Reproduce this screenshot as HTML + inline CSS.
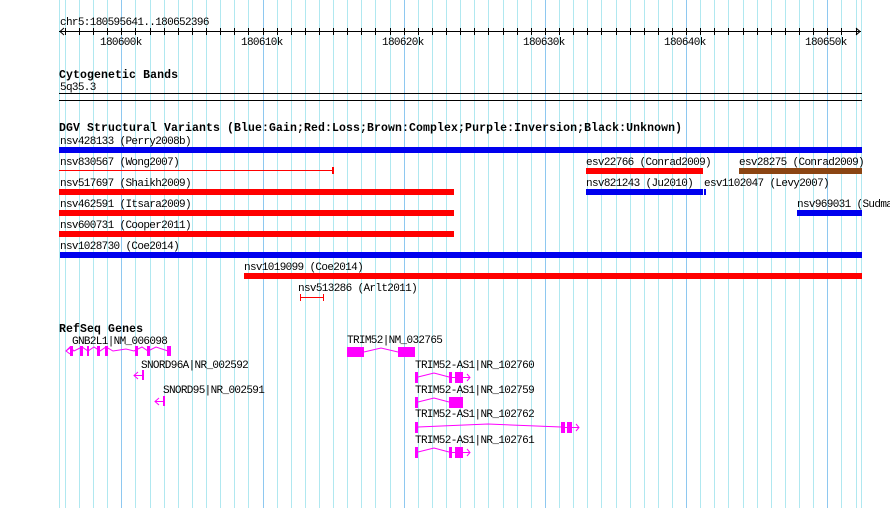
<!DOCTYPE html>
<html><head><meta charset="utf-8"><style>
html,body{margin:0;padding:0;background:#fff;}
svg{display:block;}
text{font-family:"Liberation Mono","DejaVu Sans Mono",monospace;font-size:11px;letter-spacing:-0.65px;fill:#000;}
.b{font-weight:bold;font-size:11.5px;letter-spacing:0;}
</style></head><body>
<svg width="890" height="508" viewBox="0 0 890 508" xmlns="http://www.w3.org/2000/svg">
<g shape-rendering="crispEdges" stroke-width="1" fill="none">
<path stroke="#b0e8f0" d="M59.5 0V508M65.5 0V508M79.5 0V508M93.5 0V508M107.5 0V508M135.5 0V508M150.5 0V508M164.5 0V508M178.5 0V508M192.5 0V508M206.5 0V508M220.5 0V508M234.5 0V508M248.5 0V508M277.5 0V508M291.5 0V508M305.5 0V508M319.5 0V508M333.5 0V508M347.5 0V508M361.5 0V508M375.5 0V508M390.5 0V508M418.5 0V508M432.5 0V508M446.5 0V508M460.5 0V508M474.5 0V508M488.5 0V508M503.5 0V508M517.5 0V508M531.5 0V508M559.5 0V508M573.5 0V508M587.5 0V508M601.5 0V508M616.5 0V508M630.5 0V508M644.5 0V508M658.5 0V508M672.5 0V508M700.5 0V508M714.5 0V508M728.5 0V508M743.5 0V508M757.5 0V508M771.5 0V508M785.5 0V508M799.5 0V508M813.5 0V508M841.5 0V508M856.5 0V508M861.5 0V508"/>
<path stroke="#8ec8f0" d="M121.5 0V508M263.5 0V508M404.5 0V508M545.5 0V508M686.5 0V508M827.5 0V508"/>
<path stroke="#000" d="M65.5 28V35M79.5 28V35M93.5 28V35M107.5 28V35M121.5 28V35M135.5 28V35M150.5 28V35M164.5 28V35M178.5 28V35M192.5 28V35M206.5 28V35M220.5 28V35M234.5 28V35M248.5 28V35M263.5 28V35M277.5 28V35M291.5 28V35M305.5 28V35M319.5 28V35M333.5 28V35M347.5 28V35M361.5 28V35M375.5 28V35M390.5 28V35M404.5 28V35M418.5 28V35M432.5 28V35M446.5 28V35M460.5 28V35M474.5 28V35M488.5 28V35M503.5 28V35M517.5 28V35M531.5 28V35M545.5 28V35M559.5 28V35M573.5 28V35M587.5 28V35M601.5 28V35M616.5 28V35M630.5 28V35M644.5 28V35M658.5 28V35M672.5 28V35M686.5 28V35M700.5 28V35M714.5 28V35M728.5 28V35M743.5 28V35M757.5 28V35M771.5 28V35M785.5 28V35M799.5 28V35M813.5 28V35M827.5 28V35M841.5 28V35M856.5 28V35"/>
</g>
<text x="60" y="25">chr5:180595641..180652396</text>
<line x1="59" y1="31.5" x2="861" y2="31.5" stroke="#000"/>
<polyline points="64,28 60,31.5 64,35" fill="none" stroke="#000"/>
<polyline points="856,28 860,31.5 856,35" fill="none" stroke="#000"/>
<text x="100" y="45">180600k</text><text x="241" y="45">180610k</text><text x="382" y="45">180620k</text><text x="523" y="45">180630k</text><text x="664" y="45">180640k</text><text x="805" y="45">180650k</text>
<text class="b" x="59" y="78" textLength="119">Cytogenetic Bands</text>
<text x="60" y="90">5q35.3</text>
<rect x="59" y="93" width="803" height="1" fill="#000"/>
<rect x="59" y="100" width="803" height="1" fill="#000"/>
<text class="b" x="59" y="131" textLength="623">DGV Structural Variants (Blue:Gain;Red:Loss;Brown:Complex;Purple:Inversion;Black:Unknown)</text>
<text x="60" y="144">nsv428133 (Perry2008b)</text>
<rect x="59" y="147" width="803" height="6" fill="#0000ee"/>
<text x="60" y="165">nsv830567 (Wong2007)</text>
<rect x="59" y="170" width="274" height="1" fill="#f00"/><rect x="332" y="167" width="2" height="7" fill="#f00"/>
<text x="586" y="165">esv22766 (Conrad2009)</text>
<rect x="586" y="168" width="117" height="6" fill="#f00"/>
<text x="739" y="165">esv28275 (Conrad2009)</text>
<rect x="739" y="168" width="123" height="6" fill="#8b4513"/>
<text x="60" y="186">nsv517697 (Shaikh2009)</text>
<rect x="59" y="189" width="395" height="6" fill="#f00"/>
<text x="586" y="186">nsv821243 (Ju2010)</text>
<rect x="586" y="189" width="117" height="6" fill="#0000ee"/><rect x="704" y="189" width="2" height="6" fill="#0000ee"/>
<text x="704" y="186">esv1102047 (Levy2007)</text>
<text x="60" y="207">nsv462591 (Itsara2009)</text>
<rect x="59" y="210" width="395" height="6" fill="#f00"/>
<text x="797" y="207">nsv969031 (Sudmant2013)</text>
<rect x="797" y="210" width="65" height="6" fill="#0000ee"/>
<text x="60" y="228">nsv600731 (Cooper2011)</text>
<rect x="59" y="231" width="395" height="6" fill="#f00"/>
<text x="60" y="249">nsv1028730 (Coe2014)</text>
<rect x="60" y="252" width="802" height="6" fill="#0000ee"/>
<text x="244" y="270">nsv1019099 (Coe2014)</text>
<rect x="244" y="273" width="618" height="6" fill="#f00"/>
<text x="298" y="291">nsv513286 (Arlt2011)</text>
<rect x="300" y="297" width="24" height="1" fill="#f00"/><rect x="300" y="294" width="1" height="7" fill="#f00"/><rect x="323" y="294" width="1" height="7" fill="#f00"/>
<text class="b" x="59" y="332" textLength="84">RefSeq Genes</text>
<g fill="#f0f" stroke="#f0f">
<text x="72" y="344" style="fill:#000;stroke:none">GNB2L1|NM_006098</text>
<polyline points="66,351 70,347 74,351 82,347 88,351 94,347 100,351 106,347 113,351 126,349 134,351 142,347 148,351 156,347 168,351" fill="none" stroke-width="1"/>
<polyline points="70,348 66,351 70,354" fill="none"/>
<rect x="70" y="346" width="3" height="10" stroke="none"/><rect x="80" y="346" width="3" height="10" stroke="none"/><rect x="87" y="346" width="2" height="10" stroke="none"/><rect x="97" y="346" width="3" height="10" stroke="none"/><rect x="105" y="346" width="3" height="10" stroke="none"/><rect x="135" y="346" width="3" height="10" stroke="none"/><rect x="147" y="346" width="3" height="10" stroke="none"/><rect x="167" y="346" width="4" height="10" stroke="none"/>
<text x="141" y="368" style="fill:#000;stroke:none">SNORD96A|NR_002592</text>
<line x1="134" y1="375.5" x2="142" y2="375.5"/><polyline points="138,372 134,375.5 138,379" fill="none"/><rect x="142" y="370" width="2" height="10" stroke="none"/>
<text x="163" y="393" style="fill:#000;stroke:none">SNORD95|NR_002591</text>
<line x1="155" y1="401.5" x2="163" y2="401.5"/><polyline points="159,398 155,401.5 159,405" fill="none"/><rect x="163" y="396" width="2" height="10" stroke="none"/>
<text x="347" y="343" style="fill:#000;stroke:none">TRIM52|NM_032765</text>
<rect x="347" y="347" width="17" height="10" stroke="none"/><rect x="398" y="347" width="17" height="10" stroke="none"/>
<polyline points="364,352 381,348 398,352" fill="none"/>
<text x="415" y="368" style="fill:#000;stroke:none">TRIM52-AS1|NR_102760</text>
<rect x="415" y="372" width="3" height="11" stroke="none"/><polyline points="418,377 434,373 449,377" fill="none"/><line x1="449" y1="377.5" x2="470" y2="377.5"/><rect x="449" y="372" width="3" height="11" stroke="none"/><rect x="455" y="372" width="8" height="11" stroke="none"/><polyline points="467,374 470,377.5 467,381" fill="none"/>
<text x="415" y="393" style="fill:#000;stroke:none">TRIM52-AS1|NR_102759</text>
<rect x="415" y="397" width="3" height="11" stroke="none"/><polyline points="418,402 434,398 449,402" fill="none"/><rect x="449" y="397" width="14" height="11" stroke="none"/>
<text x="415" y="417" style="fill:#000;stroke:none">TRIM52-AS1|NR_102762</text>
<rect x="415" y="422" width="3" height="11" stroke="none"/><polyline points="418,427 488,424 561,427" fill="none"/><line x1="561" y1="427.5" x2="579" y2="427.5"/><rect x="561" y="422" width="4" height="11" stroke="none"/><rect x="567" y="422" width="5" height="11" stroke="none"/><polyline points="576,424 579,427.5 576,431" fill="none"/>
<text x="415" y="443" style="fill:#000;stroke:none">TRIM52-AS1|NR_102761</text>
<rect x="415" y="447" width="3" height="11" stroke="none"/><polyline points="418,452 434,448 449,452" fill="none"/><line x1="449" y1="452.5" x2="470" y2="452.5"/><rect x="449" y="447" width="3" height="11" stroke="none"/><rect x="455" y="447" width="8" height="11" stroke="none"/><polyline points="467,449 470,452.5 467,456" fill="none"/>
</g>
</svg>
</body></html>
